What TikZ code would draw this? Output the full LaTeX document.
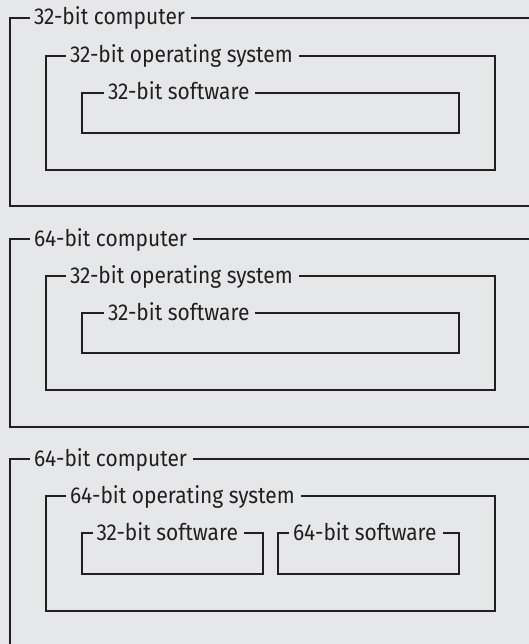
\documentclass[tikz,border=0pt]{standalone}
\usepackage{fontspec}
\setmainfont[FakeStretch=0.91]{Fira Sans}
\definecolor{bg}{RGB}{230,231,232}
\definecolor{ink}{RGB}{35,31,32}
\begin{document}
\begin{tikzpicture}[x=1pt,y=-1pt,
  box/.style={draw=ink, line width=1.2pt, rectangle, inner sep=0pt, outer sep=0pt, anchor=north west},
  title/.style={fill=bg, text=ink, font=\fontsize{23}{26}\selectfont, inner xsep=4pt, inner ysep=1pt, outer sep=0pt, anchor=base west, execute at end node={\hspace{2pt}}}]
\fill[bg] (0,0) rectangle (529,644);
\useasboundingbox (0,0) rectangle (529,644);
% panel 1
\node[box, minimum width=560pt, minimum height=188pt] (c1) at (10,18) {};
\node[box, minimum width=449pt, minimum height=114pt] (o1) at (46,56) {};
\node[box, minimum width=377pt, minimum height=40pt] (s1) at (82,93) {};
\node[title] (c1t) at (30,25) {32-bit computer};
\node[title] (o1t) at (66,63) {32-bit operating system};
\node[title] (s1t) at (104,100) {32-bit software};
% panel 2
\node[box, minimum width=560pt, minimum height=188pt] (c2) at (10,239) {};
\node[box, minimum width=449pt, minimum height=114pt] (o2) at (46,276) {};
\node[box, minimum width=377pt, minimum height=40pt] (s2) at (82,313) {};
\node[title] (c2t) at (30,246) {64-bit computer};
\node[title] (o2t) at (66,283) {32-bit operating system};
\node[title] (s2t) at (104,320) {32-bit software};
% panel 3
\node[box, minimum width=560pt, minimum height=300pt] (c3) at (10,459) {};
\node[box, minimum width=449pt, minimum height=115pt] (o3) at (46,496) {};
\node[box, minimum width=181pt, minimum height=41pt] (s3a) at (82,533) {};
\node[box, minimum width=181pt, minimum height=41pt] (s3b) at (278,533) {};
\node[title] (c3t) at (30,466) {64-bit computer};
\node[title] (o3t) at (66,503) {64-bit operating system};
\node[title] (s3at) at (92.5,540) {32-bit software};
\node[title] (s3bt) at (289,540) {64-bit software};
\end{tikzpicture}
\end{document}
